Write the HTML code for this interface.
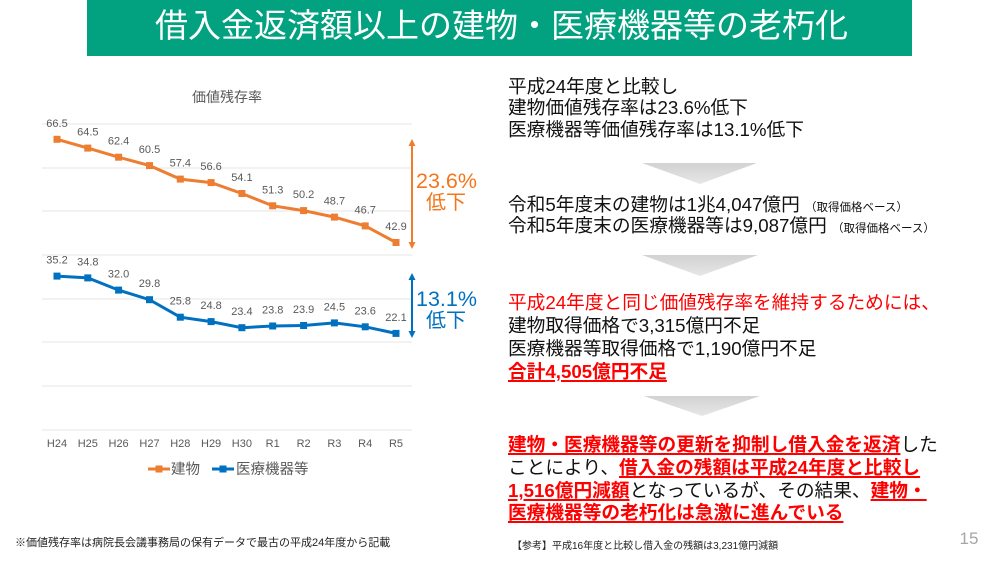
<!DOCTYPE html>
<html><head><meta charset="utf-8">
<style>
html,body{margin:0;padding:0;background:#fff;}
body{width:999px;height:562px;position:relative;overflow:hidden;font-family:"Liberation Sans","Noto Sans CJK JP",sans-serif;}
.t{position:absolute;white-space:nowrap;}
.r{font-size:18.7px;line-height:22px;color:#111;left:508px;}
.red{color:#ff0000;}
.b{font-weight:bold;color:#ff0000;text-decoration:underline;text-decoration-thickness:2px;text-underline-offset:2px;}
.sm{font-size:11.5px;}
</style></head><body>
<div style="position:absolute;left:87px;top:0;width:825px;height:56px;background:#02a17f;"></div>
<div class="t" style="left:155px;top:6px;font-size:33px;line-height:40px;color:#fff;">借入金返済額以上の建物・医療機器等の老朽化</div>

<svg style="position:absolute;left:0;top:0" width="999" height="562" xmlns="http://www.w3.org/2000/svg">
<defs><linearGradient id="g" x1="0" y1="0" x2="0" y2="1"><stop offset="0" stop-color="#d2d2d2"/><stop offset="1" stop-color="#e6e6e6"/></linearGradient></defs>
<g stroke="#e6e6e6" stroke-width="1">
<line x1="42" y1="124" x2="412" y2="124"/><line x1="42" y1="168" x2="412" y2="168"/>
<line x1="42" y1="211" x2="412" y2="211"/><line x1="42" y1="255" x2="412" y2="255"/>
<line x1="42" y1="299" x2="412" y2="299"/><line x1="42" y1="342" x2="412" y2="342"/>
<line x1="42" y1="386" x2="412" y2="386"/><line x1="42" y1="430" x2="412" y2="430"/>
</g>
<text x="227" y="102" font-size="14" fill="#595959" text-anchor="middle" font-family="Liberation Sans, Noto Sans CJK JP, sans-serif">価値残存率</text>
<polyline fill="none" stroke="#ed7d31" stroke-width="3" points="57,139.3 87.8,148.1 118.6,157.2 149.5,165.6 180.3,179.1 211.1,182.6 241.9,193.5 272.7,205.8 303.6,210.6 334.4,217.1 365.2,225.9 396,242.5"/>
<g fill="#ed7d31">
<rect x="53.5" y="135.8" width="7" height="7"/><rect x="84.3" y="144.6" width="7" height="7"/><rect x="115.1" y="153.7" width="7" height="7"/><rect x="146" y="162.1" width="7" height="7"/><rect x="176.8" y="175.6" width="7" height="7"/><rect x="207.6" y="179.1" width="7" height="7"/><rect x="238.4" y="190" width="7" height="7"/><rect x="269.2" y="202.3" width="7" height="7"/><rect x="300.1" y="207.1" width="7" height="7"/><rect x="330.9" y="213.6" width="7" height="7"/><rect x="361.7" y="222.4" width="7" height="7"/><rect x="392.5" y="239" width="7" height="7"/>
</g>
<polyline fill="none" stroke="#0070c0" stroke-width="3" points="57,276.1 87.8,277.9 118.6,290.1 149.5,299.7 180.3,317.2 211.1,321.6 241.9,327.7 272.7,326 303.6,325.5 334.4,322.9 365.2,326.8 396,333.4"/>
<g fill="#0070c0">
<rect x="53.5" y="272.6" width="7" height="7"/><rect x="84.3" y="274.4" width="7" height="7"/><rect x="115.1" y="286.6" width="7" height="7"/><rect x="146" y="296.2" width="7" height="7"/><rect x="176.8" y="313.7" width="7" height="7"/><rect x="207.6" y="318.1" width="7" height="7"/><rect x="238.4" y="324.2" width="7" height="7"/><rect x="269.2" y="322.5" width="7" height="7"/><rect x="300.1" y="322" width="7" height="7"/><rect x="330.9" y="319.4" width="7" height="7"/><rect x="361.7" y="323.3" width="7" height="7"/><rect x="392.5" y="329.9" width="7" height="7"/>
</g>
<g font-size="11" fill="#595959" text-anchor="middle" font-family="Liberation Sans, sans-serif">
<text x="57" y="126.8">66.5</text><text x="87.8" y="135.6">64.5</text><text x="118.6" y="144.7">62.4</text><text x="149.5" y="153.1">60.5</text><text x="180.3" y="166.6">57.4</text><text x="211.1" y="170.1">56.6</text><text x="241.9" y="181">54.1</text><text x="272.7" y="193.3">51.3</text><text x="303.6" y="198.1">50.2</text><text x="334.4" y="204.6">48.7</text><text x="365.2" y="213.4">46.7</text><text x="396" y="230">42.9</text>
<text x="57" y="263.6">35.2</text><text x="87.8" y="265.4">34.8</text><text x="118.6" y="277.6">32.0</text><text x="149.5" y="287.2">29.8</text><text x="180.3" y="304.7">25.8</text><text x="211.1" y="309.1">24.8</text><text x="241.9" y="315.2">23.4</text><text x="272.7" y="313.5">23.8</text><text x="303.6" y="313">23.9</text><text x="334.4" y="310.4">24.5</text><text x="365.2" y="314.3">23.6</text><text x="396" y="320.9">22.1</text>
<text x="57" y="447">H24</text><text x="87.8" y="447">H25</text><text x="118.6" y="447">H26</text><text x="149.5" y="447">H27</text><text x="180.3" y="447">H28</text><text x="211.1" y="447">H29</text><text x="241.9" y="447">H30</text><text x="272.7" y="447">R1</text><text x="303.6" y="447">R2</text><text x="334.4" y="447">R3</text><text x="365.2" y="447">R4</text><text x="396" y="447">R5</text>
</g>
<line x1="148" y1="469" x2="170" y2="469" stroke="#ed7d31" stroke-width="3"/><rect x="155.5" y="465.5" width="7" height="7" fill="#ed7d31"/>
<text x="171" y="474" font-size="14.5" fill="#595959" font-family="Liberation Sans, Noto Sans CJK JP, sans-serif">建物</text>
<line x1="212" y1="469" x2="234" y2="469" stroke="#0070c0" stroke-width="3"/><rect x="219.5" y="465.5" width="7" height="7" fill="#0070c0"/>
<text x="236" y="474" font-size="14.5" fill="#595959" font-family="Liberation Sans, Noto Sans CJK JP, sans-serif">医療機器等</text>
<!-- arrows -->
<line x1="412" y1="144" x2="412" y2="244" stroke="#f07d2c" stroke-width="2"/>
<polygon points="412,139 408.5,146 415.5,146" fill="#f07d2c"/><polygon points="412,249 408.5,242 415.5,242" fill="#f07d2c"/>
<line x1="412" y1="278" x2="412" y2="333" stroke="#0070c0" stroke-width="2"/>
<polygon points="412,273 408.5,280 415.5,280" fill="#0070c0"/><polygon points="412,338 408.5,331 415.5,331" fill="#0070c0"/>
<g font-family="Liberation Sans, Noto Sans CJK JP, sans-serif" text-anchor="middle">
<text x="446.5" y="188" fill="#f5761a" font-size="21.5">23.6%</text><text x="446" y="209" fill="#f5761a" font-size="20">低下</text>
<text x="446.5" y="306" fill="#0070c0" font-size="21.5">13.1%</text><text x="446" y="327" fill="#0070c0" font-size="20">低下</text>
</g>
<polygon points="642,163 757,163 700,184" fill="url(#g)"/>
<polygon points="642,255 758,255 700,276" fill="url(#g)"/>
<polygon points="644,396 760,396 702,416" fill="url(#g)"/>
<text x="969" y="544" font-size="17" fill="#a6a6a6" text-anchor="middle" font-family="Liberation Sans, sans-serif">15</text>
</svg>

<div class="t r" style="top:76px;">平成24年度と比較し</div>
<div class="t r" style="top:97px;">建物価値残存率は23.6%低下</div>
<div class="t r" style="top:119px;">医療機器等価値残存率は13.1%低下</div>
<div class="t r" style="top:194px;">令和5年度末の建物は1兆4,047億円 <span class="sm">（取得価格ベース）</span></div>
<div class="t r" style="top:215px;">令和5年度末の医療機器等は9,087億円 <span class="sm">（取得価格ベース）</span></div>
<div class="t r red" style="top:292px;">平成24年度と同じ価値残存率を維持するためには、</div>
<div class="t r" style="top:315px;">建物取得価格で3,315億円不足</div>
<div class="t r" style="top:338px;">医療機器等取得価格で1,190億円不足</div>
<div class="t r" style="top:361px;"><span class="b">合計4,505億円不足</span></div>
<div class="t r" style="top:434px;"><span class="b">建物・医療機器等の更新を抑制し借入金を返済</span>した</div>
<div class="t r" style="top:457px;">ことにより、<span class="b">借入金の残額は平成24年度と比較し</span></div>
<div class="t r" style="top:480px;"><span class="b">1,516億円減額</span>となっているが、その結果、<span class="b">建物・</span></div>
<div class="t r" style="top:502px;"><span class="b">医療機器等の老朽化は急激に進んでいる</span></div>

<div class="t" style="left:15px;top:536px;font-size:11px;line-height:14px;color:#222;">※価値残存率は病院長会議事務局の保有データで最古の平成24年度から記載</div>
<div class="t" style="left:512px;top:540px;font-size:10px;line-height:14px;color:#222;">【参考】平成16年度と比較し借入金の残額は3,231億円減額</div>
</body></html>
